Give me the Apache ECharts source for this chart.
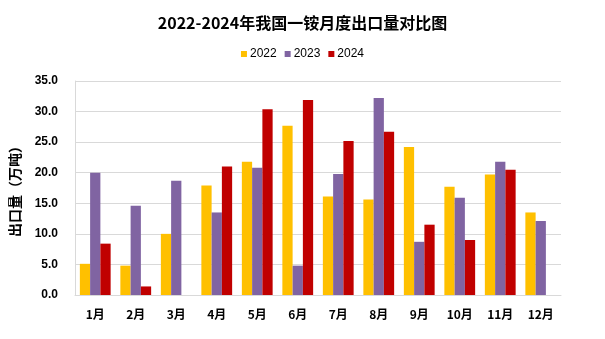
<!DOCTYPE html>
<html><head><meta charset="utf-8">
<script src="https://cdn.jsdelivr.net/npm/echarts@6/dist/echarts.min.js"></script>
<style>html,body{margin:0;padding:0;background:#fff}#c{width:605px;height:339px}</style>
</head><body><div id="c"></div>
<script>
const categories = ['1月','2月','3月','4月','5月','6月','7月','8月','9月','10月','11月','12月'];
const s2022 = [5.1, 4.8, 10.0, 17.9, 21.8, 27.7, 16.1, 15.6, 24.2, 17.7, 19.7, 13.5];
const s2023 = [20.0, 14.6, 18.7, 13.5, 20.8, 4.8, 19.8, 32.2, 8.7, 15.9, 21.8, 12.1];
const s2024 = [8.4, 1.4, null, 21.0, 30.4, 31.9, 25.2, 26.7, 11.5, 9.0, 20.5, null];
const seriesNames = ['2022','2023','2024'];
const colors = ['#FFC000','#8064A2','#C00000'];
const cjk = '"Noto Sans CJK SC", "Noto Sans", sans-serif';
const chart = echarts.init(document.getElementById('c'));
const data = [s2022, s2023, s2024];
chart.setOption({
  animation: false,
  title: {text: '2022-2024年我国一铵月度出口量对比图', left: 'center', top: 10,
    textStyle: {fontFamily: cjk, fontSize: 16, fontWeight: 'bold', color: '#000'}},
  legend: {top: 43, left: 'center', itemWidth: 6, itemHeight: 6, itemGap: 8,
    textStyle: {fontFamily: '"Liberation Sans", sans-serif', fontSize: 12, color: '#000', padding: [0,0,0,-2]},
    data: seriesNames.map((n,i)=>({name:n, icon:'rect'}))},
  grid: {left: 75, right: 44, top: 81, bottom: 44},
  xAxis: {type: 'category', data: categories,
    axisLine: {lineStyle: {color: '#D9D9D9'}}, axisTick: {show: false},
    axisLabel: {fontFamily: cjk, fontWeight: 'bold', fontSize: 12, color: '#000', margin: 13}},
  yAxis: {type: 'value', min: 0, max: 35, interval: 5,
    name: '出口量（万吨）', nameLocation: 'middle', nameGap: 53, nameRotate: 90,
    nameTextStyle: {fontFamily: cjk, fontWeight: 'bold', fontSize: 14, color: '#000'},
    axisLine: {show: true, lineStyle: {color: '#D9D9D9'}},
    splitLine: {lineStyle: {color: '#D9D9D9'}},
    axisLabel: {formatter: v => v.toFixed(1), fontFamily: '"Liberation Sans", sans-serif', fontWeight: 'bold', fontSize: 12, color: '#000', margin: 17}},
  series: seriesNames.map((n,i)=>({name:n, type:'bar', data:data[i], barGap:'0%', barCategoryGap:'24%',
    itemStyle:{color:colors[i]}}))
});
</script></body></html>
